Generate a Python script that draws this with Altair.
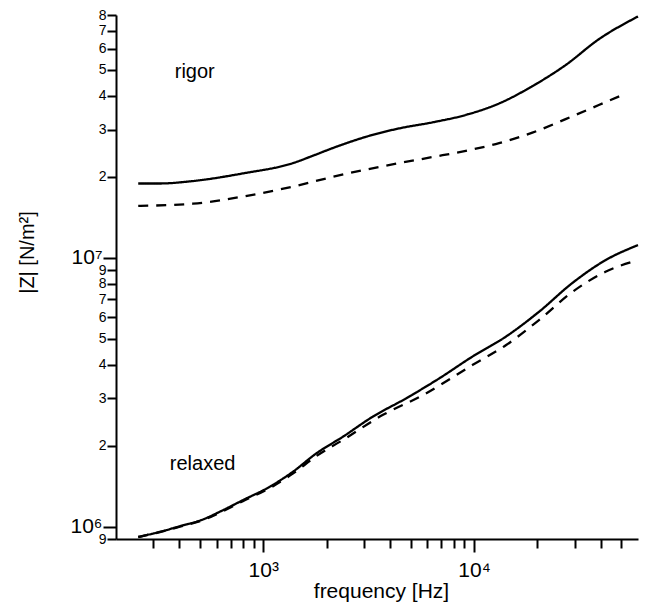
import altair as alt
import pandas as pd

# ---- data (frequency in Hz, |Z| in N/m^2) ----
rigor_solid_f = [255, 323, 464, 800, 1381, 1750, 2137, 3076, 4418, 6350, 9140, 13150, 18920, 27200, 39100, 60000]
rigor_solid_z = [1.89e7, 1.89e7, 1.93e7, 2.06e7, 2.25e7, 2.41e7, 2.56e7, 2.82e7, 3.03e7, 3.19e7, 3.40e7, 3.75e7, 4.35e7, 5.21e7, 6.50e7, 7.9e7]

rigor_dashed_f = [255, 464, 800, 1381, 2137, 3076, 4418, 6350, 9140, 13150, 18920, 27200, 39100, 50500]
rigor_dashed_z = [1.56e7, 1.59e7, 1.69e7, 1.84e7, 2.00e7, 2.13e7, 2.25e7, 2.37e7, 2.50e7, 2.67e7, 2.92e7, 3.28e7, 3.70e7, 4.03e7]

relaxed_solid_f = [255, 323, 402, 517, 621, 800, 1071, 1381, 1783, 2383, 3303, 4753, 6834, 9820, 14150, 20340, 29230, 42060, 60000]
relaxed_solid_z = [9.16e5, 9.57e5, 1.004e6, 1.064e6, 1.136e6, 1.255e6, 1.407e6, 1.600e6, 1.872e6, 2.159e6, 2.564e6, 3.00e6, 3.56e6, 4.29e6, 5.09e6, 6.30e6, 8.05e6, 9.80e6, 1.115e7]

relaxed_dashed_f = [255, 323, 402, 517, 621, 800, 1071, 1381, 1783, 2383, 3680, 5700, 9820, 14150, 20340, 29230, 42060, 60000]
relaxed_dashed_z = [9.14e5, 9.55e5, 1.0e6, 1.058e6, 1.127e6, 1.245e6, 1.391e6, 1.575e6, 1.83e6, 2.10e6, 2.60e6, 3.08e6, 3.99e6, 4.73e6, 5.87e6, 7.46e6, 8.87e6, 9.81e6]

# axis ticks and labels
x_ticks = [300, 400, 500, 600, 700, 800, 900, 1000, 2000, 3000, 4000, 5000, 6000, 7000, 8000, 9000,
           10000, 20000, 30000, 40000, 50000]
x_major = [1000, 10000]
x_major_labels = ["10³", "10⁴"]

y_ticks = [9e5, 1e6, 2e6, 3e6, 4e6, 5e6, 6e6, 7e6, 8e6, 9e6, 1e7, 2e7, 3e7, 4e7, 5e7, 6e7, 7e7, 8e7]
y_tick_labels = ["9", "10⁶", "2", "3", "4", "5", "6", "7", "8", "9", "10⁷", "2", "3", "4", "5", "6", "7", "8"]
y_major = [1e6, 1e7]

annot_text = ["rigor", "relaxed"]
annot_f = [380, 360]
annot_z = [4.66e7, 1.62e6]

# ---- build tables ----
rows = []
for name, fs, zs, style in [
    ("rigor solid", rigor_solid_f, rigor_solid_z, "solid"),
    ("rigor dashed", rigor_dashed_f, rigor_dashed_z, "dashed"),
    ("relaxed solid", relaxed_solid_f, relaxed_solid_z, "solid"),
    ("relaxed dashed", relaxed_dashed_f, relaxed_dashed_z, "dashed"),
]:
    for f, z in zip(fs, zs):
        rows.append({"f": f, "z": z, "series": name, "style": style})
df = pd.DataFrame(rows)
ann = pd.DataFrame({"text": annot_text, "f": annot_f, "z": annot_z})


def label_expr(values, labels):
    parts = [f"datum.value == {int(v)} ? '{l}'" for v, l in zip(values, labels)]
    return " : ".join(parts) + " : ''"


def test_expr(values):
    return " || ".join(f"datum.value == {int(v)}" for v in values)


FONT = "Liberation Sans"
x_scale = alt.Scale(type="log", domain=[200, 60000], nice=False)
y_scale = alt.Scale(type="log", domain=[9e5, 8e7], nice=False)

x_axis = alt.Axis(
    values=x_ticks,
    labelExpr=label_expr(x_major, x_major_labels),
    title="frequency [Hz]",
    grid=False,
    domainColor="black", domainWidth=2,
    tickColor="black", tickWidth=2,
    tickSize={"condition": {"test": test_expr(x_major), "value": 13}, "value": 9},
    labelFont=FONT, labelFontSize=21, labelColor="black",
    labelPadding=7, labelOverlap=False, labelFlush=False,
    titleFont=FONT, titleFontSize=21, titleFontWeight="normal", titleColor="black",
    titleX=265, titleY=58, titleAlign="center", titleBaseline="alphabetic", titleAnchor="start",
)

y_axis = alt.Axis(
    values=y_ticks,
    labelExpr=label_expr(y_ticks, y_tick_labels),
    title="|Z| [N/m²]",
    grid=False,
    domainColor="black", domainWidth=2,
    tickColor="black", tickWidth=2,
    tickSize={"condition": {"test": test_expr(y_major), "value": 13}, "value": 9},
    labelFont=FONT, labelColor="black",
    labelFontSize={"condition": {"test": test_expr(y_major), "value": 21}, "value": 14},
    labelPadding=1, labelOverlap=False, labelFlush=False,
    titleFont=FONT, titleFontSize=20, titleFontWeight="normal", titleColor="black",
    titleAngle=-90, titleX=-89, titleY=237, titleAlign="center", titleBaseline="middle", titleAnchor="start",
)

lines = alt.Chart(df).mark_line(color="black", strokeWidth=2.3, interpolate="monotone").encode(
    x=alt.X("f:Q", scale=x_scale, axis=x_axis),
    y=alt.Y("z:Q", scale=y_scale, axis=y_axis),
    detail="series:N",
    strokeDash=alt.StrokeDash("style:N", scale=alt.Scale(domain=["solid", "dashed"], range=[[1, 0], [10, 8]]), legend=None),
)

texts = alt.Chart(ann).mark_text(
    align="left", baseline="alphabetic", font=FONT, fontSize=20, color="black"
).encode(
    x=alt.X("f:Q", scale=x_scale),
    y=alt.Y("z:Q", scale=y_scale),
    text="text:N",
)

chart = alt.layer(lines, texts).properties(
    width=522, height=524,
    autosize=alt.AutoSizeParams(type="none"),
    padding={"left": 108, "top": 7, "right": 2, "bottom": 64},
    background="white",
).configure_view(stroke=None)

chart.save("out.html", embed_options={"renderer": "svg", "actions": False})
